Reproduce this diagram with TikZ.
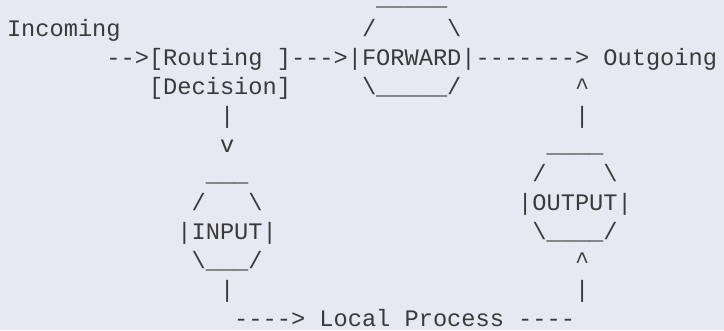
\documentclass[tikz,border=0pt]{standalone}
\usepackage{fontspec}
\setmonofont{Liberation Mono}
\definecolor{bg}{HTML}{E8E8F2}
\definecolor{ink}{HTML}{3A3A3A}
\newcommand\hy{-\kern0pt}
\newcommand\bsl{\textbackslash}
\newcommand\car{\textasciicircum}
\tikzset{asc/.style={anchor=base west, inner sep=0pt, outer sep=0pt, text=ink,
  font=\ttfamily\fontsize{23.67pt}{29pt}\selectfont}}
\begin{document}
\begin{tikzpicture}[x=14.2pt,y=-29pt]
\fill[bg] (0pt,0pt) rectangle (724pt,-330pt);
\begin{scope}[shift={(7pt,-7.5pt)}]
% row 0
\node[asc] (fwdtop) at (26,-0.06) {\_\_\_\_\_};
% row 1
\node[asc] (incoming) at (0,1) {Incoming};
\node[asc] (fwdnw) at (25,1) {/};
\node[asc] (fwdne) at (31,1) {\bsl};
% row 2
\node[asc] (arrin) at (7,2) {\hy\hy>};
\node[asc] (routing) at (10,2) {[Routing};
\node[asc] (routingr) at (19,2) {]};
\node[asc] (arrfwd) at (20,2) {\hy\hy\hy>};
\node[asc] (fwdl) at (24,2) {|};
\node[asc] (forward) at (25,2) {FORWARD};
\node[asc] (fwdr) at (32,2) {|};
\node[asc] (arrout) at (33,2) {\hy\hy\hy\hy\hy\hy\hy>};
\node[asc] (outgoing) at (42,2) {Outgoing};
% row 3
\node[asc] (decision) at (10,3) {[Decision]};
\node[asc] (fwdbot) at (25,3) {\bsl\_\_\_\_\_/};
\node[asc] (uptip1) at (40,3) {\car};
% row 4
\node[asc] (vline1) at (15,4) {|};
\node[asc] (vline2) at (40,4) {|};
% row 5
\node[asc] (downtip) at (15,5) {v};
\node[asc] (outtop) at (38,5) {\_\_\_\_};
% row 6
\node[asc] (intop) at (14,6) {\_\_\_};
\node[asc] (outnw) at (37,6) {/};
\node[asc] (outne) at (42,6) {\bsl};
% row 7
\node[asc] (innw) at (13,7) {/};
\node[asc] (inne) at (17,7) {\bsl};
\node[asc] (output) at (36,7) {|OUTPUT|};
% row 8
\node[asc] (input) at (12,8) {|INPUT|};
\node[asc] (outbot) at (37,8) {\bsl\_\_\_\_/};
% row 9
\node[asc] (inbot) at (13,9) {\bsl\_\_\_/};
\node[asc] (uptip2) at (40,9) {\car};
% row 10
\node[asc] (vline3) at (15,10) {|};
\node[asc] (vline4) at (40,10) {|};
% row 11
\node[asc] (arrlocal) at (16,11) {\hy\hy\hy\hy>};
\node[asc] (local) at (22,11) {Local Process};
\node[asc] (localtail) at (36,11) {\hy\hy\hy\hy};
\end{scope}
\end{tikzpicture}
\end{document}
